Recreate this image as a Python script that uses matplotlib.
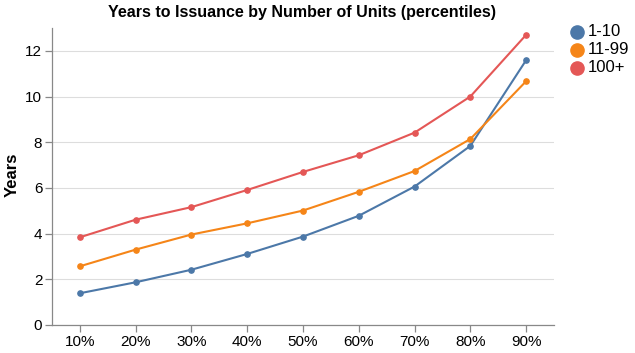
import matplotlib
matplotlib.use("Agg")
import matplotlib.pyplot as plt
from matplotlib.lines import Line2D

plt.rcParams['font.family'] = ['Liberation Sans', 'DejaVu Sans']

categories = ["10%", "20%", "30%", "40%", "50%", "60%", "70%", "80%", "90%"]
series_names = ["1-10", "11-99", "100+"]
s_1_10 = [1.39, 1.87, 2.42, 3.11, 3.87, 4.78, 6.06, 7.84, 11.59]
s_11_99 = [2.57, 3.30, 3.96, 4.45, 5.01, 5.83, 6.74, 8.14, 10.67]
s_100p = [3.84, 4.61, 5.16, 5.91, 6.70, 7.43, 8.42, 10.00, 12.70]
yticks = [0, 2, 4, 6, 8, 10, 12]
colors = ["#4c78a8", "#f58518", "#e45756"]

fig = plt.figure(figsize=(6.35, 3.53), dpi=100)
W, H = 635, 353
ax = fig.add_axes([52 / W, 28 / H, 502 / W, 297 / H])

x = list(range(len(categories)))
for name, vals, c in zip(series_names, [s_1_10, s_11_99, s_100p], colors):
    ax.plot(x, vals, color=c, lw=1.5, marker='o', ms=3.8, mec=c, mfc=c, zorder=3, clip_on=False)

ax.set_xlim(-0.5, len(categories) - 0.5)
ax.set_ylim(0, 13)
ax.set_xticks(x)
ax.set_xticklabels(categories)
ax.set_yticks(yticks)
ax.grid(axis='y', color='#dddddd', lw=0.8, zorder=0)
ax.set_axisbelow(True)
for side in ['top', 'right']:
    ax.spines[side].set_visible(False)
for side in ['left', 'bottom']:
    ax.spines[side].set_color('#888888')
    ax.spines[side].set_linewidth(0.9)
ax.tick_params(axis='both', colors='#888888', length=5, width=0.9, labelcolor='black', labelsize=11, pad=2)

fig.text(12 / W, 1 - 175 / H, "Years", rotation=90, ha='center', va='center',
         fontsize=12, fontweight='bold')
fig.text(302.5 / W, 1 - 13 / H, "Years to Issuance by Number of Units (percentiles)",
         ha='center', va='center', fontsize=11.5, fontweight='bold')

# legend
leg_y = [32, 50, 68]
for name, c, yy in zip(series_names, colors, leg_y):
    fig.add_artist(Line2D([577 / W], [1 - yy / H], marker='o', ms=9.5, color=c, lw=0,
                          transform=fig.transFigure))
    fig.text(588 / W, 1 - yy / H, name, ha='left', va='center', fontsize=12)

fig.savefig("out.png", dpi=100)
